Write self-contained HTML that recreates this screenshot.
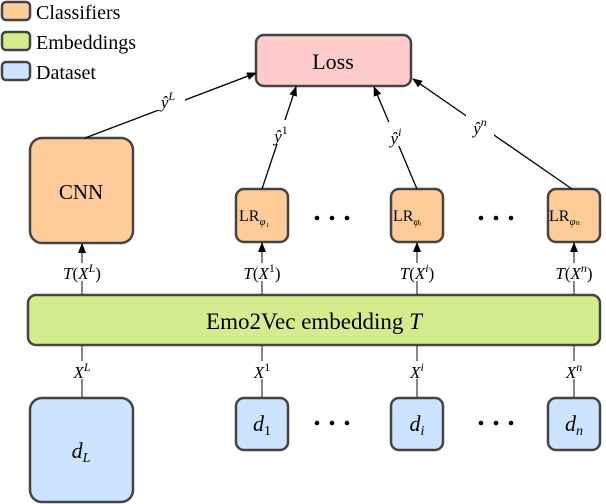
<!DOCTYPE html>
<html><head><style>body{margin:0;background:#fff}svg{display:block}</style></head><body>
<svg width="606" height="504" viewBox="0 0 606 504" font-family="'Liberation Serif','DejaVu Serif',serif">
<defs><marker id="a" markerWidth="10" markerHeight="8" refX="9" refY="4" orient="auto" markerUnits="userSpaceOnUse"><path d="M0,0 L10,4 L0,8 z" fill="#000"/></marker></defs>
<g stroke="#444" stroke-width="2.5">
<rect x="2" y="2" width="28" height="18" rx="4" fill="#ffcc99"/>
<rect x="2" y="32" width="28" height="18" rx="4" fill="#d4ec8e"/>
<rect x="2" y="62" width="28" height="18" rx="4" fill="#cce4ff"/>
<rect x="256" y="35" width="155" height="51" rx="8" fill="#ffcccc"/>
<rect x="30" y="138" width="103" height="105" rx="12" fill="#ffcc99"/>
<rect x="236" y="189" width="52" height="53" rx="8" fill="#ffcc99"/>
<rect x="391" y="189" width="52" height="53" rx="8" fill="#ffcc99"/>
<rect x="548" y="189" width="52" height="53" rx="8" fill="#ffcc99"/>
<rect x="28" y="295" width="572" height="50" rx="8" fill="#d4ec8e"/>
<rect x="30" y="398" width="103" height="104" rx="12" fill="#cce4ff"/>
<rect x="236" y="398" width="52" height="52" rx="8" fill="#cce4ff"/>
<rect x="391" y="398" width="52" height="52" rx="8" fill="#cce4ff"/>
<rect x="548" y="398" width="52" height="52" rx="8" fill="#cce4ff"/>
</g>
<g stroke="#000" stroke-width="1.3" fill="none">
<line x1="85" y1="138" x2="256" y2="73" marker-end="url(#a)"/>
<line x1="262" y1="189" x2="296" y2="87" marker-end="url(#a)"/>
<line x1="417" y1="189" x2="374" y2="87" marker-end="url(#a)"/>
<line x1="572" y1="189" x2="413" y2="79" marker-end="url(#a)"/>
<g stroke="#444">
<line x1="82" y1="295" x2="82" y2="244" marker-end="url(#a)"/>
<line x1="262" y1="295" x2="262" y2="243" marker-end="url(#a)"/>
<line x1="417" y1="295" x2="417" y2="243" marker-end="url(#a)"/>
<line x1="574" y1="295" x2="574" y2="243" marker-end="url(#a)"/>
<line x1="82" y1="345" x2="82" y2="398"/>
<line x1="262" y1="345" x2="262" y2="398"/>
<line x1="417" y1="345" x2="417" y2="398"/>
<line x1="574" y1="345" x2="574" y2="398"/>
</g>
</g>
<g font-size="20"><text x="36" y="19">Classifiers</text><text x="36" y="49">Embeddings</text><text x="36" y="79">Dataset</text></g>
<text x="333" y="69" font-size="22" text-anchor="middle">Loss</text>
<text x="81" y="199" font-size="21" text-anchor="middle">CNN</text>
<g font-size="16">
<text x="239" y="221">LR<tspan font-size="11" font-style="italic" dy="4">φ₁</tspan></text>
<text x="393" y="221">LR<tspan font-size="11" font-style="italic" dy="4">φᵢ</tspan></text>
<text x="549" y="221">LR<tspan font-size="11" font-style="italic" dy="4">φₙ</tspan></text>
</g>
<g fill="#fff">
<rect x="46" y="263" width="72" height="18"/><rect x="228" y="263" width="68" height="18"/><rect x="385" y="263" width="64" height="18"/><rect x="538" y="263" width="72" height="18"/>
<rect x="70" y="361" width="26" height="18"/><rect x="250" y="361" width="24" height="18"/><rect x="405" y="361" width="24" height="18"/><rect x="562" y="361" width="26" height="18"/>
<rect x="155" y="88" width="30" height="22"/><rect x="268" y="120" width="28" height="24"/><rect x="383" y="122" width="28" height="24"/><rect x="466" y="112" width="28" height="24"/>
</g>
<g font-size="17" text-anchor="middle">
<text x="82" y="279"><tspan font-style="italic">T</tspan>(<tspan font-style="italic">X</tspan><tspan font-size="12" dy="-7" font-style="italic">L</tspan><tspan dy="7">)</tspan></text>
<text x="262" y="279"><tspan font-style="italic">T</tspan>(<tspan font-style="italic">X</tspan><tspan font-size="12" dy="-7">1</tspan><tspan dy="7">)</tspan></text>
<text x="417" y="279"><tspan font-style="italic">T</tspan>(<tspan font-style="italic">X</tspan><tspan font-size="12" dy="-7" font-style="italic">i</tspan><tspan dy="7">)</tspan></text>
<text x="574" y="279"><tspan font-style="italic">T</tspan>(<tspan font-style="italic">X</tspan><tspan font-size="12" dy="-7" font-style="italic">n</tspan><tspan dy="7">)</tspan></text>
<text x="82" y="378" font-style="italic">X<tspan font-size="12" dy="-7">L</tspan></text>
<text x="262" y="378" font-style="italic">X<tspan font-size="12" dy="-7" font-style="normal">1</tspan></text>
<text x="417" y="378" font-style="italic">X<tspan font-size="12" dy="-7">i</tspan></text>
<text x="574" y="378" font-style="italic">X<tspan font-size="12" dy="-7">n</tspan></text>
<text x="168" y="108" font-style="italic">ŷ<tspan font-size="12" dy="-8">L</tspan></text>
<text x="281" y="142" font-style="italic">ŷ<tspan font-size="12" dy="-8" font-style="normal">1</tspan></text>
<text x="396" y="144" font-style="italic">ŷ<tspan font-size="12" dy="-8">i</tspan></text>
<text x="480" y="134" font-style="italic">ŷ<tspan font-size="12" dy="-8">n</tspan></text>
</g>
<text x="314" y="329" font-size="23" text-anchor="middle">Emo2Vec embedding <tspan font-style="italic">T</tspan></text>
<g font-size="22" font-style="italic" text-anchor="middle">
<text x="81" y="458">d<tspan font-size="14" dy="4">L</tspan></text>
<text x="262" y="431">d<tspan font-size="14" dy="4" font-style="normal">1</tspan></text>
<text x="417" y="431">d<tspan font-size="14" dy="4">i</tspan></text>
<text x="574" y="431">d<tspan font-size="14" dy="4">n</tspan></text>
</g>
<g fill="#000">
<circle cx="317" cy="218" r="2.3"/><circle cx="332" cy="218" r="2.3"/><circle cx="347" cy="218" r="2.3"/>
<circle cx="481" cy="218" r="2.3"/><circle cx="496" cy="218" r="2.3"/><circle cx="511" cy="218" r="2.3"/>
<circle cx="317" cy="423" r="2.3"/><circle cx="332" cy="423" r="2.3"/><circle cx="347" cy="423" r="2.3"/>
<circle cx="481" cy="423" r="2.3"/><circle cx="496" cy="423" r="2.3"/><circle cx="511" cy="423" r="2.3"/>
</g>
</svg>
</body></html>
